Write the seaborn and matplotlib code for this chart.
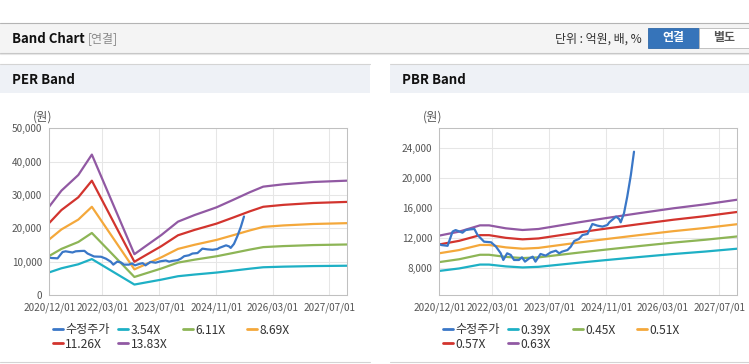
import pandas as pd
import matplotlib
matplotlib.use('Agg')
import matplotlib.pyplot as plt
from matplotlib.lines import Line2D
from matplotlib.patches import Rectangle
import seaborn as sns

W, H = 749, 364

# adjusted share price (수정주가)
price_dates = ['2020-12-07', '2020-12-20', '2021-02-10', '2021-03-25', '2021-04-20', '2021-06-18',
               '2021-07-15', '2021-08-28', '2021-09-28', '2021-10-25', '2021-12-20', '2022-02-18',
               '2022-04-01', '2022-05-12', '2022-06-03', '2022-07-06', '2022-08-06', '2022-09-03',
               '2022-10-15', '2022-11-10', '2022-12-06', '2023-01-12', '2023-02-10', '2023-03-06',
               '2023-04-18', '2023-06-01', '2023-07-15', '2023-08-28', '2023-09-25', '2023-10-20',
               '2023-12-06', '2024-01-03', '2024-02-01', '2024-03-12', '2024-04-12', '2024-05-25',
               '2024-07-06', '2024-08-18', '2024-10-01', '2024-11-12', '2024-11-28', '2025-01-25',
               '2025-02-20', '2025-03-06', '2025-04-03', '2025-05-01', '2025-06-01', '2025-06-28']
price_values = [11200, 11100, 11000, 12900, 13100, 12750,
                13100, 13200, 13240, 12440, 11550, 11470,
                10890, 10000, 9110, 10000, 9780, 9110,
                9110, 9470, 8890, 9330, 9550, 8890,
                9910, 9690, 10130, 10350, 10000, 10220,
                10440, 10890, 11640, 11910, 12440, 12580,
                13910, 13690, 13560, 13780, 14130, 14890,
                14580, 14130, 15330, 17550, 20440, 23550]

# EPS basis of the PER band
eps_dates = ['2020-12-01', '2021-03-15', '2021-08-07', '2021-12-01', '2022-12-01', '2023-03-01',
             '2023-07-20', '2023-12-10', '2024-05-01', '2024-07-25', '2024-11-05', '2025-03-25',
             '2025-08-15', '2025-12-10', '2026-06-01', '2027-02-12', '2027-12-01']
eps_values = [1920, 2263, 2603, 3045, 885, 1048,
              1301, 1591, 1735, 1810, 1902, 2061,
              2227, 2350, 2401, 2451, 2480]
per_multiples = [3.54, 6.11, 8.69, 11.26, 13.83]

# BPS basis of the PBR band
bps_dates = ['2020-12-01', '2021-05-20', '2021-11-15', '2022-02-01', '2022-06-25', '2022-11-15',
             '2023-04-01', '2024-03-12', '2024-11-01', '2025-08-01', '2026-06-01', '2027-03-01',
             '2027-12-01']
bps_values = [19620, 20460, 21790, 21790, 21160, 20810,
              21020, 22430, 23330, 24330, 25400, 26240,
              27220]
pbr_multiples = [0.39, 0.45, 0.51, 0.57, 0.63]

price_label = '수정주가'
band_colors = ['#1eb0c5', '#8db556', '#f4a83b', '#d2342e', '#9159a3']
price_color = '#3a77c7'

tick_dates = ['2020-12-01', '2022-03-01', '2023-07-01', '2024-11-01', '2026-03-01', '2027-07-01']
x_range = ['2020-12-01', '2027-12-01']
per_yticks = [0, 10000, 20000, 30000, 40000, 50000]
per_ylim = (0, 50000)
pbr_yticks = [8000, 12000, 16000, 20000, 24000]
pbr_ylim = (4440, 26670)

sns.set_theme(style='white')
plt.rcParams['font.family'] = ['Noto Sans CJK KR', 'DejaVu Sans']

fig = plt.figure(figsize=(W / 100, H / 100), dpi=100)
fig.patch.set_facecolor('white')

# page chrome drawn in pixel coordinates
bg = fig.add_axes([0, 0, 1, 1])
bg.set_xlim(0, W)
bg.set_ylim(H, 0)
bg.axis('off')

bg.add_patch(Rectangle((0, 22.5), W, 30.5, fc='#f4f4f4', ec='none'))
bg.plot([0, W], [22.5, 22.5], color='#b4b4b4', lw=0.8)
bg.plot([0, W], [53, 53], color='#c6c6c6', lw=0.8)
bg.plot([0, W], [54.2, 54.2], color='#e6e6e6', lw=0.8)
bg.text(11.5, 39, 'Band Chart', fontsize=9.5, fontweight='bold', color='#111111', va='center')
bg.text(88, 39, '[연결]', fontsize=8.6, color='#8a8a8a', va='center')
bg.text(642, 39, '단위 : 억원, 배, %', fontsize=8.6, color='#333333', va='center', ha='right')
bg.add_patch(Rectangle((647.7, 28), 51.6, 20, fc='#3674ba', ec='#2f68a8', lw=0.6))
bg.text(673.5, 38, '연결', fontsize=8.6, fontweight='bold', color='white', va='center', ha='center')
bg.add_patch(Rectangle((699.3, 28), 49.2, 20, fc='white', ec='#b8b8b8', lw=0.6))
bg.text(724, 38, '별도', fontsize=8.6, fontweight='bold', color='#555555', va='center', ha='center')

for x0, x1, title in [(0, 370, 'PER Band'), (390, 749, 'PBR Band')]:
    bg.add_patch(Rectangle((x0, 64.5), x1 - x0, 28.2, fc='#eef1f6', ec='none'))
    bg.plot([x0, x1], [64.3, 64.3], color='#d4d4d4', lw=0.8)
    bg.plot([x0, x1], [362, 362], color='#d4d4d4', lw=0.8)
    bg.text(x0 + 12, 80.5, title, fontsize=9.5, fontweight='bold', color='#111111', va='center')
    bg.text(x0 + 43, 117.5, '(원)', fontsize=8.8, color='#555555', va='center', ha='center')


def draw_panel(left_px, base_dates, base_values, multiples, ylim, yticks):
    ax = fig.add_axes([left_px / W, (H - 295) / H, 298 / W, 166.7 / H])
    ax.set_facecolor('white')
    labels = [f'{m:.2f}X' for m in multiples]
    frames = []
    for m, lab in zip(multiples, labels):
        frames.append(pd.DataFrame({'date': pd.to_datetime(base_dates),
                                    'value': [v * m for v in base_values],
                                    'series': lab}))
    bands = pd.concat(frames, ignore_index=True)
    sns.lineplot(data=bands, x='date', y='value', hue='series', hue_order=labels,
                 palette=band_colors, linewidth=1.6, legend=False, ax=ax)
    price = pd.DataFrame({'date': pd.to_datetime(price_dates), 'value': price_values})
    sns.lineplot(data=price, x='date', y='value', color=price_color, linewidth=1.6, ax=ax)

    ax.set_xlim(pd.Timestamp(x_range[0]), pd.Timestamp(x_range[1]))
    ax.set_xticks(pd.to_datetime(tick_dates))
    ax.set_xticklabels([d.replace('-', '/') for d in tick_dates])
    ax.set_ylim(*ylim)
    ax.set_yticks(yticks)
    ax.set_yticklabels([f'{v:,}' for v in yticks])
    ax.set_xlabel('')
    ax.set_ylabel('')
    ax.grid(True, color='#e6e6e6', lw=0.75)
    ax.set_axisbelow(True)
    ax.tick_params(length=2.7, width=0.75, color='#b8b8b8', labelsize=7.2, labelcolor='#555555')
    ax.tick_params(axis='x', pad=2.5)
    ax.tick_params(axis='y', pad=2.3)
    for sp in ax.spines.values():
        sp.set_color('#c0c0c0')
        sp.set_linewidth(0.75)

    # legend laid out in four fixed columns, two rows
    all_labels = [price_label] + labels
    all_colors = [price_color] + band_colors
    for i, cx in enumerate([52.7, 118, 183, 247]):
        idx = [j for j in (i, i + 4) if j < len(all_labels)]
        handles = [Line2D([], [], color=all_colors[j], lw=2) for j in idx]
        fig.legend(handles, [all_labels[j] for j in idx], loc='upper left',
                   bbox_to_anchor=((left_px - 49.3 + cx) / W, 1 - 323.5 / H),
                   frameon=False, fontsize=8.7, handlelength=0.85, handletextpad=0.2,
                   labelspacing=0.1, borderpad=0, borderaxespad=0, labelcolor='#333333')
    return ax


draw_panel(49.3, eps_dates, eps_values, per_multiples, per_ylim, per_yticks)
draw_panel(439.3, bps_dates, bps_values, pbr_multiples, pbr_ylim, pbr_yticks)

fig.savefig('out.png', dpi=100)
